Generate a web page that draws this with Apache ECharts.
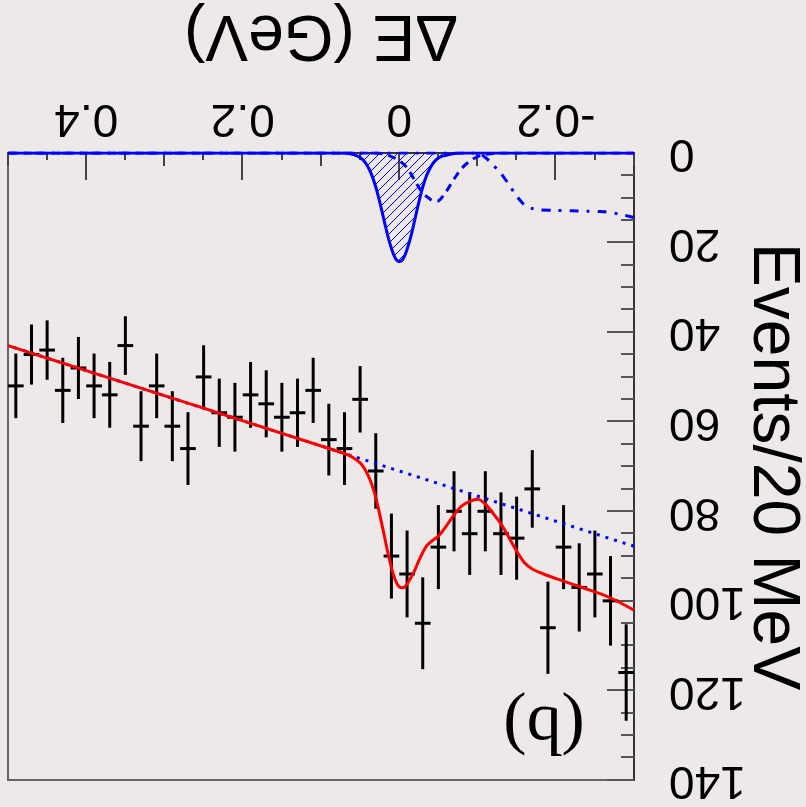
<!DOCTYPE html>
<html>
<head>
<meta charset="utf-8">
<script src="https://cdn.jsdelivr.net/npm/echarts@6/dist/echarts.min.js"></script>
<style>
  html, body { margin: 0; padding: 0; background: #ece9e8; }
  /* the whole figure is shown turned half a turn */
  #chart { width: 806px; height: 807px; transform: rotate(180deg); transform-origin: 50% 50%; }
</style>
</head>
<body>
<div id="chart"></div>
<script>
// ΔE bin centres (GeV), 20 MeV bins
const binCenters = [-0.29, -0.27, -0.25, -0.23, -0.21, -0.19, -0.17, -0.15, -0.13, -0.11,
                    -0.09, -0.07, -0.05, -0.03, -0.01, 0.01, 0.03, 0.05, 0.07, 0.09,
                    0.11, 0.13, 0.15, 0.17, 0.19, 0.21, 0.23, 0.25, 0.27, 0.29,
                    0.31, 0.33, 0.35, 0.37, 0.39, 0.41, 0.43, 0.45, 0.47, 0.49];
// events per bin
const counts = [116, 100, 94, 97, 88, 106, 75, 86, 85, 80,
                85, 80, 88, 105, 94, 90, 71, 55, 66, 64,
                53, 58, 59, 56, 54, 59, 58, 50, 66, 61,
                52, 61, 43, 54, 52, 48, 53, 44, 45, 52];

// continuum background (straight line)
const bkgX = [-0.30, 0.50];
const bkgY = [87.8, 43.0];

// signal component (hatched)
const sigX = [-0.30, -0.08, -0.07, -0.065, -0.06, -0.055, -0.05, -0.045, -0.04, -0.035, -0.03, -0.025,
              -0.02, -0.015, -0.01, -0.005, 0.0, 0.005, 0.01, 0.015, 0.02, 0.025, 0.03, 0.035,
              0.04, 0.045, 0.05, 0.055, 0.06, 0.065, 0.07, 0.08, 0.50];
const sigY = [0, 0, 0.1, 0.3, 0.5, 0.7, 1.1, 1.9, 3.2, 5.0, 7.6, 11.0,
              14.8, 18.5, 21.5, 23.6, 24.2, 23.5, 21.3, 18.3, 14.6, 10.9, 7.6, 5.0,
              3.1, 1.8, 1.0, 0.6, 0.3, 0.1, 0, 0, 0];

// peaking background (dashed)
const peakX = [-0.30, -0.13, -0.12, -0.11, -0.10, -0.09, -0.08, -0.07, -0.06, -0.05, -0.045,
               -0.04, -0.03, -0.02, -0.01, 0.0, 0.01, 0.02, 0.03, 0.50];
const peakY = [0, 0, 0.1, 0.3, 0.8, 1.8, 3.4, 5.8, 8.6, 10.7, 10.8,
               10.4, 8.9, 6.2, 3.3, 1.7, 0.8, 0.2, 0, 0];

// B-decay background (dash-dotted)
const bbX = [-0.30, -0.28, -0.26, -0.24, -0.22, -0.20, -0.18, -0.17, -0.16, -0.15,
             -0.14, -0.13, -0.12, -0.11, -0.10, 0.50];
const bbY = [14.4, 13.6, 13.1, 13.0, 12.9, 12.8, 12.7, 12.4, 11.6, 9.6,
             7.0, 4.6, 2.7, 1.0, 0, 0];

// total fit (red)
const totX = [-0.30, -0.28, -0.26, -0.24, -0.22, -0.20, -0.18, -0.17, -0.16, -0.15, -0.14,
              -0.13, -0.12, -0.11, -0.10, -0.09, -0.08, -0.07, -0.06, -0.05, -0.045, -0.04,
              -0.035, -0.03, -0.025, -0.02, -0.015, -0.01, -0.005, 0.0, 0.005, 0.01, 0.015,
              0.02, 0.025, 0.03, 0.035, 0.04, 0.045, 0.05, 0.06, 0.07, 0.50];
const totY = [102.1, 100.2, 98.6, 97.4, 96.2, 95.0, 93.7, 92.9, 91.5, 88.9, 85.8,
              82.8, 80.5, 78.4, 77.3, 77.8, 78.8, 80.8, 83.3, 85.6, 86.2, 86.9,
              87.7, 89.2, 91.0, 93.1, 94.8, 96.2, 97.1, 96.9, 95.4, 92.6, 88.9,
              84.7, 80.7, 76.9, 74.1, 71.9, 70.3, 69.2, 67.9, 67.1, 43.0];

const xMajor = [-0.2, 0, 0.2, 0.4];
const binHalfWidth = 0.01;

const pairs = (xs, ys) => xs.map((x, i) => [x, ys[i]]);

function hatch() {
  const c = document.createElement('canvas');
  c.width = 9; c.height = 9;
  const g = c.getContext('2d');
  g.strokeStyle = '#0000ff';
  g.lineWidth = 1;
  g.beginPath();
  g.moveTo(-1, 10); g.lineTo(10, -1);
  g.moveTo(-1, 1); g.lineTo(1, -1);
  g.moveTo(8, 10); g.lineTo(10, 8);
  g.stroke();
  return c;
}

const FONT = '"Liberation Sans", Arial, Helvetica, sans-serif';
const chart = echarts.init(document.getElementById('chart'), null, { renderer: 'canvas' });

const xBase = { type: 'value', min: -0.3, max: 0.5, position: 'bottom', splitLine: { show: false } };
const yBase = { type: 'value', min: 0, max: 140, position: 'left', splitLine: { show: false } };

chart.setOption({
  animation: false,
  backgroundColor: '#ece9e8',
  grid: { left: 172, right: 8, top: 27, bottom: 153, outerBoundsMode: 'none', containLabel: false,
          show: true, borderColor: '#666', borderWidth: 2, backgroundColor: 'transparent' },
  xAxis: [
    Object.assign({}, xBase, {
      interval: 0.05,
      axisLine: { show: true, onZero: false, lineStyle: { color: '#333', width: 2 } },
      axisTick: { show: true, inside: true, length: 7, lineStyle: { color: '#444', width: 2 } },
      axisLabel: { show: true, customValues: xMajor, margin: 12, color: '#000', fontSize: 46, fontFamily: FONT,
                   formatter: v => (Math.abs(v) < 1e-9 ? '0' : String(Math.round(v * 10) / 10)) },
      name: 'ΔE (GeV)', nameLocation: 'middle', nameGap: 87,
      nameTextStyle: { color: '#000', fontSize: 64, fontFamily: FONT }
    }),
    Object.assign({}, xBase, {
      interval: 0.1,
      axisLine: { show: false, onZero: false },
      axisTick: { show: true, inside: true, length: 13, lineStyle: { color: '#444', width: 2 } },
      axisLabel: { show: false }
    }),
    Object.assign({}, xBase, {
      axisLine: { show: false, onZero: false },
      axisTick: { show: true, inside: true, length: 27, customValues: xMajor, lineStyle: { color: '#444', width: 2 } },
      axisLabel: { show: false }
    })
  ],
  yAxis: [
    Object.assign({}, yBase, {
      interval: 20,
      axisLine: { show: true, onZero: false, lineStyle: { color: '#333', width: 2 } },
      axisTick: { show: true, inside: true, length: 27, lineStyle: { color: '#555', width: 2 } },
      axisLabel: { show: true, margin: 35, color: '#000', fontSize: 46, fontFamily: FONT },
      name: 'Events/20 MeV', nameLocation: 'middle', nameRotate: 90, nameGap: 105, nameMoveOverlap: false,
      nameTextStyle: { color: '#000', fontSize: 66, fontFamily: FONT }
    }),
    Object.assign({}, yBase, {
      interval: 5,
      axisLine: { show: false, onZero: false },
      axisTick: { show: true, inside: true, length: 13, lineStyle: { color: '#555', width: 2 } },
      axisLabel: { show: false }
    })
  ],
  graphic: [{
    type: 'text', x: 262, y: 82, z: 50,
    style: { text: '(b)', fill: '#000', font: '70px "Liberation Serif", "Times New Roman", serif',
             textAlign: 'center', textVerticalAlign: 'middle' }
  }],
  series: [
    {
      type: 'line', name: 'continuum', data: pairs(bkgX, bkgY), symbol: 'none',
      lineStyle: { color: '#0000ff', width: 3, type: [3, 6] }
    },
    {
      type: 'custom', name: 'data',
      data: binCenters.map((x, i) => [x, counts[i], Math.sqrt(counts[i])]),
      renderItem: (params, api) => {
        const x = api.value(0), n = api.value(1), e = api.value(2);
        const hi = api.coord([x, n + e]), lo = api.coord([x, n - e]);
        const l = api.coord([x - binHalfWidth, n]), r = api.coord([x + binHalfWidth, n]);
        const st = { stroke: '#000', lineWidth: 3 };
        return {
          type: 'group',
          children: [
            { type: 'line', shape: { x1: hi[0], y1: hi[1], x2: lo[0], y2: lo[1] }, style: st },
            { type: 'line', shape: { x1: l[0], y1: l[1], x2: r[0], y2: r[1] }, style: st }
          ]
        };
      }
    },
    {
      type: 'line', name: 'total', data: pairs(totX, totY), symbol: 'none', smooth: 0.3,
      lineStyle: { color: '#ff0000', width: 3 }
    },
    {
      type: 'line', name: 'B decays', data: pairs(bbX, bbY), symbol: 'none', smooth: 0.3,
      lineStyle: { color: '#0000ff', width: 3, type: [9, 8, 3, 8] }
    },
    {
      type: 'line', name: 'peaking', data: pairs(peakX, peakY), symbol: 'none', smooth: 0.3,
      lineStyle: { color: '#0000ff', width: 3, type: [8, 6] }
    },
    {
      type: 'line', name: 'signal', data: pairs(sigX, sigY), symbol: 'none', smooth: 0.3,
      lineStyle: { color: '#0000ff', width: 3 },
      areaStyle: { color: { image: hatch(), repeat: 'repeat' }, opacity: 1, origin: 'start' }
    }
  ]
});
</script>
</body>
</html>
